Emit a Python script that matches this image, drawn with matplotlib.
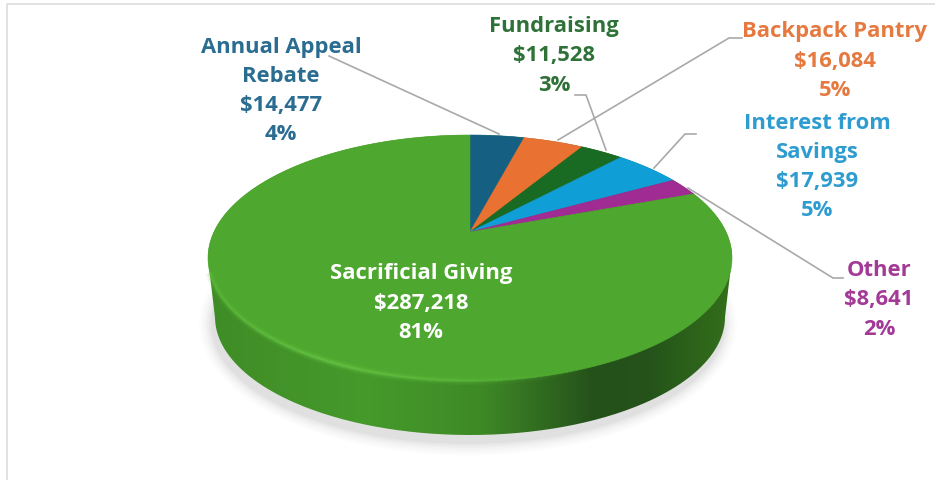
import numpy as np
import matplotlib
matplotlib.use('Agg')
from matplotlib import pyplot as plt
from matplotlib.collections import LineCollection
from matplotlib.colors import LinearSegmentedColormap
from matplotlib.patches import Ellipse, Polygon, PathPatch
from matplotlib.path import Path

plt.rcParams['font.family'] = ['Open Sans', 'DejaVu Sans']

# Values, clockwise from the top of the pie.
labels = ['Annual Appeal\nRebate', 'Backpack Pantry', 'Fundraising',
          'Interest from\nSavings', 'Other', 'Sacrificial Giving']
amounts = [14477, 16084, 11528, 17939, 8641, 287218]
percents = ['4%', '5%', '3%', '5%', '2%', '81%']
colors = ['#156082', '#E97132', '#196B24', '#0F9ED5', '#A02B93', '#4EA72E']
text_colors = ['#2B6C91', '#E5793F', '#2F7238', '#2F9CD0', '#A23A96', 'white']

# Center of each label in pixels, and the grey leader lines.
label_x = [281, 835, 554, 817, 879, 421]
label_y = [91, 61, 56, 167, 300, 303]
leaders = [
    [(329, 56), (499, 134)],
    [(742, 38), (729, 38), (558, 140)],
    [(575, 95), (586, 95), (606, 150)],
    [(696, 134), (685, 134), (654, 168)],
    [(688, 188), (833, 278), (843, 278)],
]

# Pie geometry in pixels: the tilted top face, the smaller bottom face and
# the apex, which sits off the ellipse center because of the perspective.
cx, cy, rx, ry = 470, 258, 262, 123
bot_cy, bot_rx, bot_ry = 317, 255, 118
apex_x, apex_y = 470, 232
tilt = 2.2


def edge_point(theta):
    # where the ray at pie angle theta leaves the top ellipse
    dx = tilt * np.sin(theta)
    dy = -np.cos(theta)
    ox, oy = apex_x - cx, apex_y - cy
    a = (dx / rx) ** 2 + (dy / ry) ** 2
    b = 2 * (ox * dx / rx ** 2 + oy * dy / ry ** 2)
    c = (ox / rx) ** 2 + (oy / ry) ** 2 - 1
    t = (-b + np.sqrt(b ** 2 - 4 * a * c)) / (2 * a)
    return apex_x + t * dx, apex_y + t * dy


fig = plt.figure(figsize=(9.35, 4.8), dpi=100)
ax = fig.add_axes([0, 0, 1, 1])
ax.set_xlim(0, 935)
ax.set_ylim(480, 0)
ax.axis('off')

# image frame
ax.plot([935, 6.5, 6.5], [3.5, 3.5, 480], color='#DCDCDC', lw=1.2)

# soft shadow under the pie
for grow, alpha in zip(range(14, 0, -2), [.008, .01, .012, .015, .02, .025, .03]):
    ax.add_patch(Ellipse((cx - 2, bot_cy + 7), 2 * (bot_rx + grow), 2 * (bot_ry + grow),
                         color='black', alpha=alpha, lw=0))

# side wall: top and bottom ellipse joined, filled with a horizontal gradient
phi = np.linspace(0, 2 * np.pi, 400)
side_xy = np.vstack([
    np.column_stack([cx - rx * np.cos(phi[:200]), cy + ry * np.sin(phi[:200]) * -1]),
    np.column_stack([cx + bot_rx * np.cos(phi[:200]), bot_cy + bot_ry * np.sin(phi[:200])]),
])
side_xy = np.vstack([side_xy, side_xy[:1]])
side_path = Path(side_xy)
side_cmap = LinearSegmentedColormap.from_list('side', [
    (0.00, '#3F8C26'), (0.30, '#459A2B'), (0.52, '#3E8A26'), (0.74, '#24501A'),
    (0.84, '#24531A'), (1.00, '#336F1A')])
img = ax.imshow(np.linspace(0, 1, 256).reshape(1, -1), cmap=side_cmap, aspect='auto',
                extent=[cx - rx, cx + rx, 440, 130], zorder=2)
ax.set_xlim(0, 935)
ax.set_ylim(480, 0)
img.set_clip_path(PathPatch(side_path, transform=ax.transData))

# top face, one polygon per slice
fractions = np.array(amounts) / sum(amounts)
bounds = np.concatenate([[0], np.cumsum(fractions)]) * 2 * np.pi
for i in range(len(amounts)):
    thetas = np.linspace(bounds[i], bounds[i + 1], 200)
    arc = [edge_point(t) for t in thetas]
    ax.add_patch(Polygon([(apex_x, apex_y)] + arc, closed=True, facecolor=colors[i],
                         edgecolor=colors[i], lw=0.4, zorder=3))

# bright rim on the front edge of the top face, fading to the right
rim_phi = np.linspace(0.12, np.pi, 200)
rim_x = cx - rx * np.cos(rim_phi)
rim_y = cy + ry * np.sin(rim_phi)
pts = np.column_stack([rim_x, rim_y]).reshape(-1, 1, 2)
segs = np.concatenate([pts[:-1], pts[1:]], axis=1)
fade = np.clip(1 - np.abs(rim_x[:-1] - 330) / 260, 0, 1)
rim_colors = np.zeros((len(segs), 4))
rim_colors[:, :3] = matplotlib.colors.to_rgb('#66C544')
for width, alpha in [(6, .18), (3.5, .35), (1.6, .6)]:
    rim_colors[:, 3] = fade * alpha
    ax.add_collection(LineCollection(segs, colors=rim_colors.copy(), linewidths=width, zorder=4))

# leader lines
for line in leaders:
    xs, ys = zip(*line)
    ax.plot(xs, ys, color='#A9A9A9', lw=1.2, zorder=5, solid_joinstyle='round')

# labels
for i in range(len(amounts)):
    txt = f'{labels[i]}\n${amounts[i]:,}\n{percents[i]}'
    ax.text(label_x[i], label_y[i], txt, color=text_colors[i], ha='center', va='center',
            fontsize=15.8, fontweight='bold', linespacing=1.52, zorder=6)

fig.savefig('out.png', dpi=100)
